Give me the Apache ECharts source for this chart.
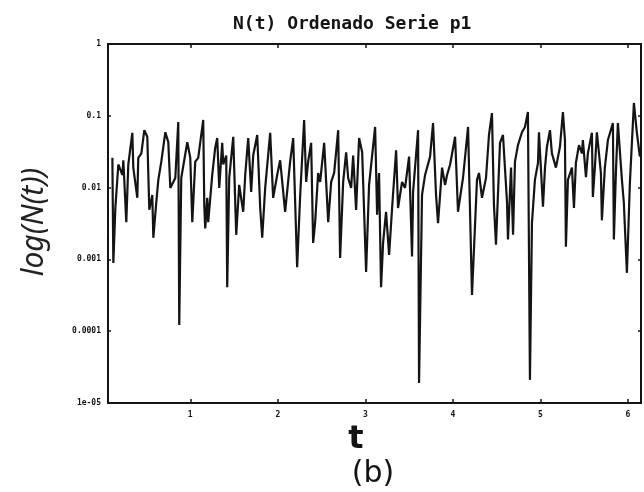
<!DOCTYPE html>
<html>
<head>
<meta charset="utf-8">
<script src="https://cdn.jsdelivr.net/npm/echarts@6/dist/echarts.min.js"></script>
<style>
  html, body { margin: 0; background: #fff; }
  #chart { width: 644px; height: 492px; }
</style>
</head>
<body>
<div id="chart"></div>
<script>
// N(t)
var tValues = [
  0.110, 0.121, 0.144, 0.178, 0.224, 0.235, 0.269, 0.292, 0.338, 0.349,
  0.395, 0.406, 0.441, 0.475, 0.509, 0.532, 0.566, 0.578, 0.612, 0.635,
  0.669, 0.715, 0.749, 0.772, 0.829, 0.863, 0.874, 0.897, 0.966, 1.000,
  1.023, 1.057, 1.091, 1.148, 1.160, 1.171, 1.194, 1.205, 1.251, 1.285,
  1.308, 1.331, 1.365, 1.377, 1.411, 1.422, 1.445, 1.491, 1.525, 1.559,
  1.605, 1.628, 1.662, 1.696, 1.719, 1.765, 1.799, 1.822, 1.856, 1.913,
  1.947, 1.993, 2.027, 2.084, 2.141, 2.176, 2.221, 2.256, 2.301, 2.324,
  2.347, 2.381, 2.404, 2.427, 2.461, 2.484, 2.530, 2.576, 2.610, 2.644,
  2.690, 2.712, 2.747, 2.781, 2.804, 2.838, 2.861, 2.895, 2.929, 2.964,
  3.009, 3.043, 3.112, 3.135, 3.157, 3.180, 3.203, 3.237, 3.272, 3.306,
  3.352, 3.374, 3.420, 3.454, 3.500, 3.534, 3.546, 3.603, 3.614, 3.648,
  3.683, 3.740, 3.774, 3.808, 3.831, 3.877, 3.911, 3.934, 3.969, 4.026,
  4.059, 4.116, 4.174, 4.219, 4.276, 4.299, 4.333, 4.379, 4.413, 4.447,
  4.470, 4.493, 4.539, 4.573, 4.619, 4.630, 4.665, 4.688, 4.710, 4.744,
  4.790, 4.824, 4.858, 4.881, 4.904, 4.938, 4.973, 4.984, 5.030, 5.053,
  5.075, 5.110, 5.132, 5.178, 5.224, 5.258, 5.281, 5.292, 5.315, 5.361,
  5.384, 5.406, 5.441, 5.475, 5.486, 5.521, 5.543, 5.589, 5.600, 5.623,
  5.646, 5.692, 5.703, 5.737, 5.772, 5.829, 5.840, 5.863, 5.886, 5.932,
  5.954, 5.989, 6.023, 6.069, 6.103, 6.137
];
var nValues = [
  0.026, 0.00089, 0.0052, 0.021, 0.015, 0.024, 0.0033, 0.021, 0.058, 0.019,
  0.0072, 0.026, 0.030, 0.063, 0.051, 0.0049, 0.0079, 0.0020, 0.0063, 0.0128,
  0.023, 0.059, 0.043, 0.0099, 0.0136, 0.082, 0.000122, 0.0136, 0.043, 0.026,
  0.0033, 0.023, 0.026, 0.0875, 0.0057, 0.0027, 0.0072, 0.0033, 0.015, 0.036,
  0.049, 0.0099, 0.042, 0.021, 0.028, 0.00041, 0.0136, 0.051, 0.0022, 0.0109,
  0.0046, 0.015, 0.049, 0.0087, 0.028, 0.054, 0.0052, 0.0020, 0.0099, 0.058,
  0.0072, 0.015, 0.024, 0.0046, 0.023, 0.049, 0.00078, 0.0079, 0.0875, 0.012,
  0.023, 0.042, 0.0017, 0.0033, 0.016, 0.012, 0.042, 0.0033, 0.012, 0.016,
  0.063, 0.00105, 0.012, 0.031, 0.0136, 0.0099, 0.028, 0.0049, 0.049, 0.031,
  0.00067, 0.0109, 0.070, 0.0042, 0.016, 0.00041, 0.0017, 0.0046, 0.00115, 0.0052,
  0.033, 0.0052, 0.012, 0.0099, 0.027, 0.0011, 0.0087, 0.063, 0.000019, 0.0079,
  0.015, 0.027, 0.079, 0.0079, 0.0032, 0.019, 0.0109, 0.015, 0.021, 0.051,
  0.0046, 0.0136, 0.070, 0.00032, 0.0128, 0.016, 0.0072, 0.0136, 0.054, 0.109,
  0.0057, 0.0016, 0.042, 0.054, 0.0063, 0.0019, 0.019, 0.0022, 0.023, 0.039,
  0.059, 0.070, 0.113, 0.000021, 0.0032, 0.0128, 0.022, 0.059, 0.0054, 0.019,
  0.037, 0.063, 0.030, 0.019, 0.037, 0.113, 0.046, 0.0015, 0.0128, 0.019,
  0.0052, 0.022, 0.039, 0.030, 0.046, 0.014, 0.030, 0.058, 0.0074, 0.019,
  0.059, 0.016, 0.0035, 0.019, 0.046, 0.079, 0.0019, 0.016, 0.079, 0.0128,
  0.0061, 0.00065, 0.0116, 0.151, 0.058, 0.027
];
var xTicks = [1, 2, 3, 4, 5, 6];
var yTickLabels = ['1e-05', '0.0001', '0.001', '0.01', '0.1', '1'];

var points = tValues.map(function(t, i) { return [t, nValues[i]]; });

var ink = '#141414';
var tickFont = { fontFamily: 'DejaVu Sans Mono', fontWeight: 'bold', fontSize: 8, color: ink };

function frameX(pos, showLabels) {
  return {
    type: 'value', position: pos, min: 0.06, max: 6.15,
    axisLine: { show: true, onZero: false, lineStyle: { color: ink, width: 2 } },
    axisTick: { show: true, inside: true, length: 4, customValues: xTicks, lineStyle: { color: ink, width: 1.5 } },
    axisLabel: Object.assign({ show: showLabels, margin: 8, customValues: xTicks }, tickFont),
    splitLine: { show: false }
  };
}
function frameY(pos, showLabels) {
  return {
    type: 'log', logBase: 10, position: pos, min: 1e-5, max: 1,
    axisLine: { show: true, onZero: false, lineStyle: { color: ink, width: 2 } },
    axisTick: { show: true, inside: true, length: 3, lineStyle: { color: ink, width: 1.5 } },
    axisLabel: Object.assign({
      show: showLabels, margin: 7,
      formatter: function(v) {
        var k = Math.round(Math.log10(v)) + 5;
        return yTickLabels[k] || '';
      }
    }, tickFont),
    splitLine: { show: false }
  };
}

var myChart = echarts.init(document.getElementById('chart'));
var option = {
  animation: false,
  backgroundColor: '#fff',
  title: {
    text: 'N(t) Ordenado Serie p1',
    left: 228, top: 10,
    textStyle: { fontFamily: 'DejaVu Sans Mono', fontWeight: 'bold', fontSize: 18, color: ink }
  },
  grid: { left: 108, right: 3, top: 44, bottom: 89 },
  xAxis: [frameX('bottom', true), frameX('top', false)],
  yAxis: [frameY('left', true), frameY('right', false)],
  series: [{
    name: 'N(t)',
    type: 'line',
    data: points,
    symbol: 'none',
    lineStyle: { color: ink, width: 2.2 }
  }],
  graphic: [
    {
      type: 'text', x: 34, y: 222, rotation: Math.PI / 2,
      style: { text: 'log(N(t))', font: 'italic 30px "Noto Sans"', fill: '#222', align: 'center', verticalAlign: 'middle' }
    },
    {
      type: 'text', x: 356, y: 440,
      style: { text: 't', font: 'bold 32px "DejaVu Sans"', fill: ink, align: 'center', verticalAlign: 'middle' }
    },
    {
      type: 'text', x: 373, y: 474,
      style: { text: '(b)', font: '30px "DejaVu Sans"', fill: ink, align: 'center', verticalAlign: 'middle' }
    }
  ]
};
myChart.setOption(option);
</script>
</body>
</html>
